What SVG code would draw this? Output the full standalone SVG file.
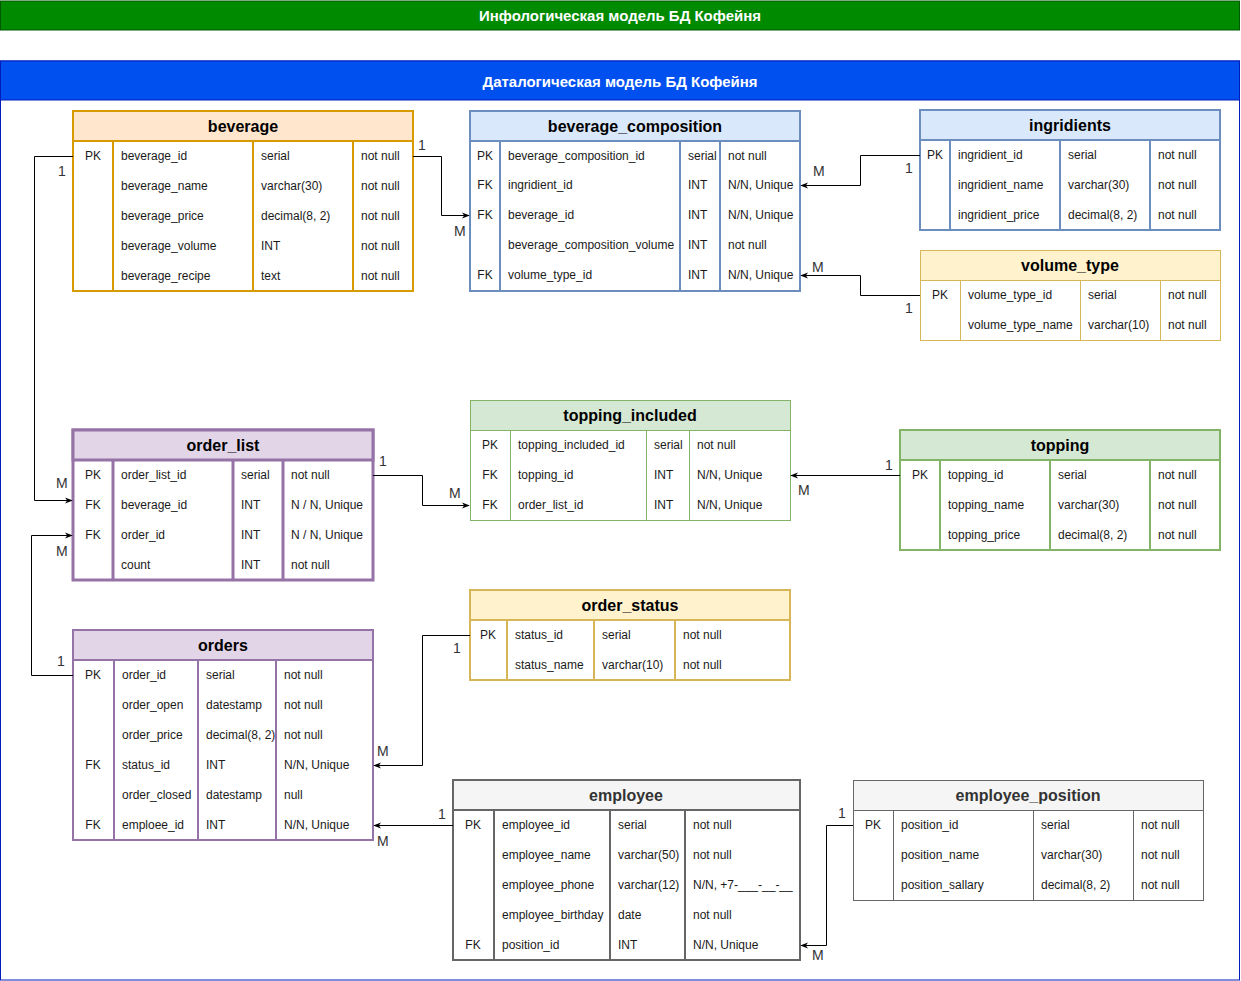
<svg xmlns="http://www.w3.org/2000/svg" width="1241" height="981" viewBox="0 0 1241 981">
<style>
text{font-family:"Liberation Sans",Arial,sans-serif;}
.t{font-size:16px;font-weight:bold;text-anchor:middle;fill:#000;}
.tg{font-size:16px;font-weight:bold;text-anchor:middle;fill:#333;}
.r{font-size:12px;fill:#1a1a1a;}
.k{font-size:12px;fill:#1a1a1a;text-anchor:middle;}
.lbl{font-size:14px;fill:#333;}
.ban{font-size:14px;font-weight:bold;fill:#fff;text-anchor:middle;}
.conn path{fill:none;stroke:#000;stroke-width:1;}
.or{stroke:#d79b00;stroke-width:2;}
.bl{stroke:#6c8ebf;stroke-width:2;}
.ye{stroke:#d6b656;stroke-width:2;}
.ye1{stroke:#d6b656;stroke-width:1;}
.pu{stroke:#9673a6;stroke-width:2;}
.pu3{stroke:#9673a6;stroke-width:3;}
.gr{stroke:#82b366;stroke-width:2;}
.gr1{stroke:#82b366;stroke-width:1;}
.gy{stroke:#666666;stroke-width:2;}
.gy1{stroke:#666666;stroke-width:1;}
</style>
<defs>
<marker id="arr" viewBox="0 0 10 10" refX="9" refY="5" markerWidth="8" markerHeight="8" markerUnits="userSpaceOnUse" orient="auto">
<path d="M0,1 L10,5 L0,9 L3,5 Z" fill="#000"/>
</marker>
</defs>
<rect width="1241" height="981" fill="#fff"/>
<g id="banner-info">
<rect x="0.5" y="1" width="1239" height="29" fill="#008a00" stroke="#005700"/>
<text class="ban" x="620" y="21" textLength="282" lengthAdjust="spacingAndGlyphs">Инфологическая модель БД Кофейня</text>
</g>
<g id="container">
<rect x="0.5" y="61" width="1239" height="919" fill="#fff" stroke="#001dbc"/>
<rect x="0.5" y="61" width="1239" height="39" fill="#0050ef" stroke="#001dbc"/>
<text class="ban" x="620" y="87" textLength="275" lengthAdjust="spacingAndGlyphs">Даталогическая модель БД Кофейня</text>
</g>

<g id="beverage">
<rect x="73" y="111" width="340" height="180" fill="#fff" class="or"/>
<rect x="73" y="111" width="340" height="30" fill="#ffe6cc" class="or"/>
<path d="M113 141V291M253 141V291M353 141V291" class="or" fill="none"/>
<text class="t" x="243" y="132">beverage</text>
<text class="k" x="93" y="160">PK</text>
<text class="r" x="121" y="160">beverage_id</text><text class="r" x="261" y="160">serial</text><text class="r" x="361" y="160">not null</text>
<text class="r" x="121" y="190">beverage_name</text><text class="r" x="261" y="190">varchar(30)</text><text class="r" x="361" y="190">not null</text>
<text class="r" x="121" y="220">beverage_price</text><text class="r" x="261" y="220">decimal(8, 2)</text><text class="r" x="361" y="220">not null</text>
<text class="r" x="121" y="250">beverage_volume</text><text class="r" x="261" y="250">INT</text><text class="r" x="361" y="250">not null</text>
<text class="r" x="121" y="280">beverage_recipe</text><text class="r" x="261" y="280">text</text><text class="r" x="361" y="280">not null</text>
</g>

<g id="beverage_composition">
<rect x="470" y="111" width="330" height="180" fill="#fff" class="bl"/>
<rect x="470" y="111" width="330" height="30" fill="#dae8fc" class="bl"/>
<path d="M500 141V291M680 141V291M720 141V291" class="bl" fill="none"/>
<text class="t" x="635" y="132">beverage_composition</text>
<text class="k" x="485" y="160">PK</text><text class="r" x="508" y="160">beverage_composition_id</text><text class="r" x="688" y="160">serial</text><text class="r" x="728" y="160">not null</text>
<text class="k" x="485" y="189">FK</text><text class="r" x="508" y="189">ingridient_id</text><text class="r" x="688" y="189">INT</text><text class="r" x="728" y="189">N/N, Unique</text>
<text class="k" x="485" y="219">FK</text><text class="r" x="508" y="219">beverage_id</text><text class="r" x="688" y="219">INT</text><text class="r" x="728" y="219">N/N, Unique</text>
<text class="r" x="508" y="249">beverage_composition_volume</text><text class="r" x="688" y="249">INT</text><text class="r" x="728" y="249">not null</text>
<text class="k" x="485" y="279">FK</text><text class="r" x="508" y="279">volume_type_id</text><text class="r" x="688" y="279">INT</text><text class="r" x="728" y="279">N/N, Unique</text>
</g>

<g id="ingridients">
<rect x="920" y="110" width="300" height="120" fill="#fff" class="bl"/>
<rect x="920" y="110" width="300" height="30" fill="#dae8fc" class="bl"/>
<path d="M950 140V230M1060 140V230M1150 140V230" class="bl" fill="none"/>
<text class="t" x="1070" y="131">ingridients</text>
<text class="k" x="935" y="159">PK</text><text class="r" x="958" y="159">ingridient_id</text><text class="r" x="1068" y="159">serial</text><text class="r" x="1158" y="159">not null</text>
<text class="r" x="958" y="189">ingridient_name</text><text class="r" x="1068" y="189">varchar(30)</text><text class="r" x="1158" y="189">not null</text>
<text class="r" x="958" y="219">ingridient_price</text><text class="r" x="1068" y="219">decimal(8, 2)</text><text class="r" x="1158" y="219">not null</text>
</g>

<g id="volume_type">
<rect x="920.5" y="250.5" width="300" height="90" fill="#fff" class="ye1"/>
<rect x="920.5" y="250.5" width="300" height="30" fill="#fff2cc" class="ye1"/>
<path d="M960.5 280V340M1080.5 280V340M1160.5 280V340" class="ye1" fill="none"/>
<text class="t" x="1070" y="271">volume_type</text>
<text class="k" x="940" y="299">PK</text><text class="r" x="968" y="299">volume_type_id</text><text class="r" x="1088" y="299">serial</text><text class="r" x="1168" y="299">not null</text>
<text class="r" x="968" y="329">volume_type_name</text><text class="r" x="1088" y="329">varchar(10)</text><text class="r" x="1168" y="329">not null</text>
</g>

<g id="order_list">
<rect x="73" y="430" width="300" height="150" fill="#fff" class="pu3"/>
<rect x="73" y="430" width="300" height="30" fill="#e1d5e7" class="pu3"/>
<path d="M113 460V580M233 460V580M283 460V580" class="pu3" fill="none"/>
<text class="t" x="223" y="451">order_list</text>
<text class="k" x="93" y="479">PK</text><text class="r" x="121" y="479">order_list_id</text><text class="r" x="241" y="479">serial</text><text class="r" x="291" y="479">not null</text>
<text class="k" x="93" y="509">FK</text><text class="r" x="121" y="509">beverage_id</text><text class="r" x="241" y="509">INT</text><text class="r" x="291" y="509">N / N, Unique</text>
<text class="k" x="93" y="539">FK</text><text class="r" x="121" y="539">order_id</text><text class="r" x="241" y="539">INT</text><text class="r" x="291" y="539">N / N, Unique</text>
<text class="r" x="121" y="569">count</text><text class="r" x="241" y="569">INT</text><text class="r" x="291" y="569">not null</text>
</g>

<g id="topping_included">
<rect x="470.5" y="400.5" width="320" height="120" fill="#fff" class="gr1"/>
<rect x="470.5" y="400.5" width="320" height="30" fill="#d5e8d4" class="gr1"/>
<path d="M510.5 430V520M646.5 430V520M689.5 430V520" class="gr1" fill="none"/>
<text class="t" x="630" y="421">topping_included</text>
<text class="k" x="490" y="449">PK</text><text class="r" x="518" y="449">topping_included_id</text><text class="r" x="654" y="449">serial</text><text class="r" x="697" y="449">not null</text>
<text class="k" x="490" y="479">FK</text><text class="r" x="518" y="479">topping_id</text><text class="r" x="654" y="479">INT</text><text class="r" x="697" y="479">N/N, Unique</text>
<text class="k" x="490" y="509">FK</text><text class="r" x="518" y="509">order_list_id</text><text class="r" x="654" y="509">INT</text><text class="r" x="697" y="509">N/N, Unique</text>
</g>

<g id="topping">
<rect x="900" y="430" width="320" height="120" fill="#fff" class="gr"/>
<rect x="900" y="430" width="320" height="30" fill="#d5e8d4" class="gr"/>
<path d="M940 460V550M1050 460V550M1150 460V550" class="gr" fill="none"/>
<text class="t" x="1060" y="451">topping</text>
<text class="k" x="920" y="479">PK</text><text class="r" x="948" y="479">topping_id</text><text class="r" x="1058" y="479">serial</text><text class="r" x="1158" y="479">not null</text>
<text class="r" x="948" y="509">topping_name</text><text class="r" x="1058" y="509">varchar(30)</text><text class="r" x="1158" y="509">not null</text>
<text class="r" x="948" y="539">topping_price</text><text class="r" x="1058" y="539">decimal(8, 2)</text><text class="r" x="1158" y="539">not null</text>
</g>

<g id="order_status">
<rect x="470" y="590" width="320" height="90" fill="#fff" class="ye"/>
<rect x="470" y="590" width="320" height="30" fill="#fff2cc" class="ye"/>
<path d="M507 620V680M594 620V680M675 620V680" class="ye" fill="none"/>
<text class="t" x="630" y="611">order_status</text>
<text class="k" x="488" y="639">PK</text><text class="r" x="515" y="639">status_id</text><text class="r" x="602" y="639">serial</text><text class="r" x="683" y="639">not null</text>
<text class="r" x="515" y="669">status_name</text><text class="r" x="602" y="669">varchar(10)</text><text class="r" x="683" y="669">not null</text>
</g>

<g id="orders">
<rect x="73" y="630" width="300" height="210" fill="#fff" class="pu"/>
<rect x="73" y="630" width="300" height="30" fill="#e1d5e7" class="pu"/>
<path d="M114 660V840M198 660V840M276 660V840" class="pu" fill="none"/>
<text class="t" x="223" y="651">orders</text>
<text class="k" x="93" y="679">PK</text><text class="r" x="122" y="679">order_id</text><text class="r" x="206" y="679">serial</text><text class="r" x="284" y="679">not null</text>
<text class="r" x="122" y="709">order_open</text><text class="r" x="206" y="709">datestamp</text><text class="r" x="284" y="709">not null</text>
<text class="r" x="122" y="739">order_price</text><text class="r" x="206" y="739">decimal(8, 2)</text><text class="r" x="284" y="739">not null</text>
<text class="k" x="93" y="769">FK</text><text class="r" x="122" y="769">status_id</text><text class="r" x="206" y="769">INT</text><text class="r" x="284" y="769">N/N, Unique</text>
<text class="r" x="122" y="799">order_closed</text><text class="r" x="206" y="799">datestamp</text><text class="r" x="284" y="799">null</text>
<text class="k" x="93" y="829">FK</text><text class="r" x="122" y="829">emploee_id</text><text class="r" x="206" y="829">INT</text><text class="r" x="284" y="829">N/N, Unique</text>
</g>

<g id="employee">
<rect x="453" y="780" width="347" height="180" fill="#fff" class="gy"/>
<rect x="453" y="780" width="347" height="30" fill="#f5f5f5" class="gy"/>
<path d="M494 810V960M610 810V960M685 810V960" class="gy" fill="none"/>
<text class="tg" x="626" y="801">employee</text>
<text class="k" x="473" y="829">PK</text><text class="r" x="502" y="829">employee_id</text><text class="r" x="618" y="829">serial</text><text class="r" x="693" y="829">not null</text>
<text class="r" x="502" y="859">employee_name</text><text class="r" x="618" y="859">varchar(50)</text><text class="r" x="693" y="859">not null</text>
<text class="r" x="502" y="889">employee_phone</text><text class="r" x="618" y="889">varchar(12)</text><text class="r" x="693" y="889">N/N, +7-___-__-__</text>
<text class="r" x="502" y="919">employee_birthday</text><text class="r" x="618" y="919">date</text><text class="r" x="693" y="919">not null</text>
<text class="k" x="473" y="949">FK</text><text class="r" x="502" y="949">position_id</text><text class="r" x="618" y="949">INT</text><text class="r" x="693" y="949">N/N, Unique</text>
</g>

<g id="employee_position">
<rect x="853.5" y="780.5" width="350" height="120" fill="#fff" class="gy1"/>
<rect x="853.5" y="780.5" width="350" height="30" fill="#f5f5f5" class="gy1"/>
<path d="M893.5 810V900M1033.5 810V900M1133.5 810V900" class="gy1" fill="none"/>
<text class="tg" x="1028" y="801">employee_position</text>
<text class="k" x="873" y="829">PK</text><text class="r" x="901" y="829">position_id</text><text class="r" x="1041" y="829">serial</text><text class="r" x="1141" y="829">not null</text>
<text class="r" x="901" y="859">position_name</text><text class="r" x="1041" y="859">varchar(30)</text><text class="r" x="1141" y="859">not null</text>
<text class="r" x="901" y="889">position_sallary</text><text class="r" x="1041" y="889">decimal(8, 2)</text><text class="r" x="1141" y="889">not null</text>
</g>

<g id="connectors" class="conn">
<path d="M73 156.5H34.5V500.5H72" marker-end="url(#arr)"/>
<path d="M413 156.5H441.5V215.5H469" marker-end="url(#arr)"/>
<path d="M920 155.5H860.5V185.5H801" marker-end="url(#arr)"/>
<path d="M920 295.5H860.5V275.5H801" marker-end="url(#arr)"/>
<path d="M373 475.5H422.5V505.5H469" marker-end="url(#arr)"/>
<path d="M900 475.5H791" marker-end="url(#arr)"/>
<path d="M73 675.5H31.5V535.5H72" marker-end="url(#arr)"/>
<path d="M470 635.5H422.5V765.5H374" marker-end="url(#arr)"/>
<path d="M453 825.5H374" marker-end="url(#arr)"/>
<path d="M853 825.5H826.5V945.5H801" marker-end="url(#arr)"/>
</g>
<g id="labels">
<text class="lbl" x="58" y="176">1</text><text class="lbl" x="56" y="488">M</text>
<text class="lbl" x="418" y="150">1</text><text class="lbl" x="454" y="236">M</text>
<text class="lbl" x="905" y="173">1</text><text class="lbl" x="813" y="176">M</text>
<text class="lbl" x="905" y="313">1</text><text class="lbl" x="812" y="272">M</text>
<text class="lbl" x="379" y="466">1</text><text class="lbl" x="449" y="498">M</text>
<text class="lbl" x="885" y="470">1</text><text class="lbl" x="798" y="495">M</text>
<text class="lbl" x="57" y="666">1</text><text class="lbl" x="56" y="556">M</text>
<text class="lbl" x="453" y="653">1</text><text class="lbl" x="377" y="756">M</text>
<text class="lbl" x="438" y="819">1</text><text class="lbl" x="377" y="846">M</text>
<text class="lbl" x="838" y="818">1</text><text class="lbl" x="812" y="960">M</text>
</g>
</svg>
